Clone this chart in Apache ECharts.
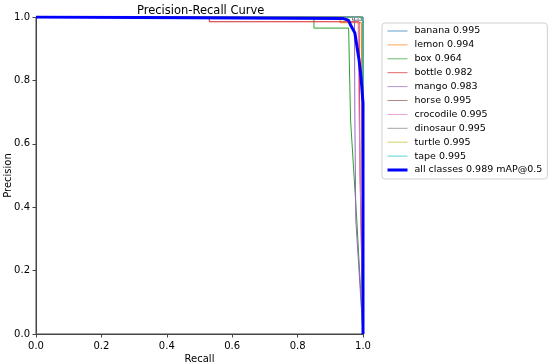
<!DOCTYPE html>
<html>
<head>
<meta charset="utf-8">
<script src="https://cdn.jsdelivr.net/npm/echarts@6/dist/echarts.min.js"></script>
<style>
  html, body { margin: 0; padding: 0; background: #fff; }
  #chart { width: 550px; height: 364px; }
</style>
</head>
<body>
<div id="chart"></div>
<script>
// class names and AP@0.5 values shown in the legend
const classNames = ['banana', 'lemon', 'box', 'bottle', 'mango', 'horse', 'crocodile', 'dinosaur', 'turtle', 'tape'];
const apValues = [0.995, 0.994, 0.964, 0.982, 0.983, 0.995, 0.995, 0.995, 0.995, 0.995];
const classColors = ['#1f77b4', '#ff7f0e', '#2ca02c', '#d62728', '#9467bd', '#8c564b', '#e377c2', '#7f7f7f', '#bcbd22', '#17becf'];

// per class curves (recall, precision)
const recallBanana = [0, 0.995, 1.0, 1.0];
const precBanana = [1, 1, 0.98, 0];
const recallLemon = [0, 0.93, 0.93, 0.995, 1.0, 1.0];
const precLemon = [1, 1, 0.982, 0.982, 0.98, 0];
const recallBox = [0, 0.85, 0.85, 0.956, 0.962, 0.981, 1.0];
const precBox = [1, 1, 0.965, 0.965, 0.675, 0.36, 0];
const recallBottle = [0, 0.53, 0.53, 0.988, 0.991, 1.0];
const precBottle = [1, 1, 0.985, 0.985, 0.5, 0];
const recallMango = [0, 0.974, 0.975, 0.978, 1.0];
const precMango = [1, 1, 0.7, 0.36, 0];
const recallHorse = [0, 0.99, 1.0, 1.0];
const precHorse = [1, 1, 0.99, 0];
const recallCroc = [0, 0.985, 0.988, 1.0];
const precCroc = [1, 1, 0.7, 0];
const recallDino = [0, 0.968, 0.968, 1.0, 1.0];
const precDino = [1, 1, 0.99, 0.99, 0];
const recallTurtle = [0, 0.995, 1.0, 1.0];
const precTurtle = [1, 1, 0.99, 0];
const recallTape = [0, 0.996, 1.0, 1.0];
const precTape = [1, 1, 0.99, 0];

const classRecalls = [recallBanana, recallLemon, recallBox, recallBottle, recallMango, recallHorse, recallCroc, recallDino, recallTurtle, recallTape];
const classPrecisions = [precBanana, precLemon, precBox, precBottle, precMango, precHorse, precCroc, precDino, precTurtle, precTape];

// mean curve over all classes
const recallAll = [0, 0.94, 0.955, 0.962, 0.975, 0.988, 0.994, 1.0, 1.0];
const precAll = [1, 0.995, 0.99, 0.975, 0.95, 0.864, 0.81, 0.729, 0];
const mapAll = 0.989;

const axisTicks = [0, 0.2, 0.4, 0.6, 0.8, 1.0];

const font = 'DejaVu Sans';
const chart = echarts.init(document.getElementById('chart'), null, { renderer: 'canvas' });

const series = classNames.map((name, i) => ({
  name: name + ' ' + apValues[i].toFixed(3),
  type: 'line',
  symbol: 'none',
  animation: false,
  color: classColors[i],
  lineStyle: { width: 1, color: classColors[i] },
  data: classRecalls[i].map((r, j) => [r, classPrecisions[i][j]])
}));
series.push({
  name: 'all classes ' + mapAll.toFixed(3) + ' mAP@0.5',
  type: 'line',
  symbol: 'none',
  animation: false,
  color: '#0000ff',
  lineStyle: { width: 3, color: '#0000ff' },
  data: recallAll.map((r, j) => [r, precAll[j]])
});

function axis(name, extra) {
  return Object.assign({
    type: 'value',
    min: axisTicks[0],
    max: axisTicks[axisTicks.length - 1],
    interval: 0.2,
    name: name,
    nameLocation: 'middle',
    nameMoveOverlap: false,
    nameTextStyle: { fontFamily: font, fontSize: 10, color: '#000' },
    axisLine: { show: true, lineStyle: { color: '#444', width: 1 } },
    axisTick: { show: true, inside: false, length: 3.5, lineStyle: { color: '#444' } },
    splitLine: { show: false }
  }, extra);
}

// legend entries: thin lines for classes, thick one for the mean
const legendData = series.map(s => ({
  name: s.name,
  lineStyle: { width: s.lineStyle.width === 3 ? 3 : 1, opacity: s.lineStyle.width === 3 ? 1 : 0.7 }
}));

chart.setOption({
  backgroundColor: '#fff',
  title: {
    text: 'Precision-Recall Curve',
    left: 132,
    top: 0,
    textStyle: { fontFamily: font, fontSize: 11.5, fontWeight: 'normal', color: '#000' }
  },
  grid: {
    left: 36, right: 187, top: 17, bottom: 30,
    containLabel: false,
    outerBoundsMode: 'none',
    show: true, borderColor: '#444', borderWidth: 1
  },
  legend: {
    orient: 'vertical',
    left: 382,
    top: 23,
    padding: [3, 5, 4, 4],
    itemWidth: 20,
    itemHeight: 10,
    itemGap: 3.9,
    borderColor: '#d0d0d0',
    borderWidth: 1,
    borderRadius: 3,
    backgroundColor: '#fff',
    itemStyle: { opacity: 0 },
    textStyle: { fontFamily: font, fontSize: 9.5, color: '#000', padding: [0, 0, 0, 2] },
    data: legendData
  },
  xAxis: axis('Recall', {
    nameGap: 20,
    axisLabel: { fontFamily: font, fontSize: 10, color: '#000', margin: 7, formatter: v => v.toFixed(1) }
  }),
  yAxis: axis('Precision', {
    nameGap: 23,
    nameRotate: 90,
    axisLabel: { fontFamily: font, fontSize: 10, color: '#000', margin: 6, formatter: v => v.toFixed(1) }
  }),
  series: series
});
</script>
</body>
</html>
